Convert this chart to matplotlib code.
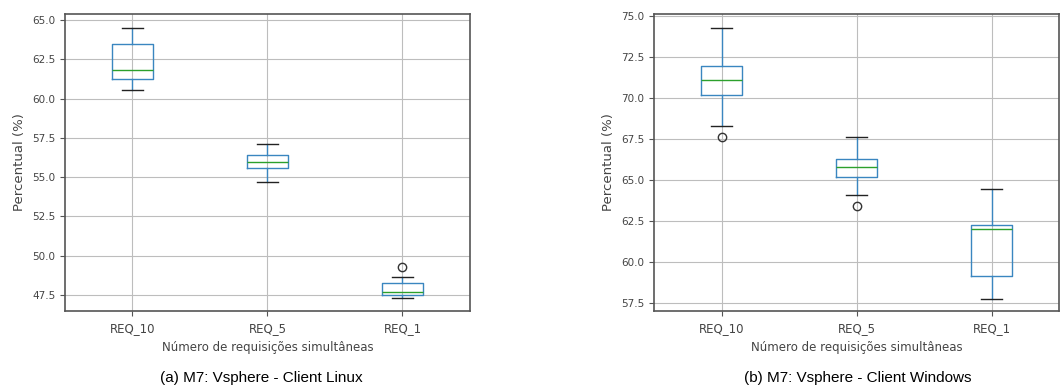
import matplotlib
matplotlib.use('Agg')
import matplotlib.pyplot as plt

# Estatisticas dos boxplots (whislo, q1, mediana, q3, whishi, outliers)
categorias = ['REQ_10', 'REQ_5', 'REQ_1']

linux_whislo = [60.52, 54.67, 47.28]
linux_q1 = [61.22, 55.56, 47.50]
linux_med = [61.84, 55.98, 47.71]
linux_q3 = [63.49, 56.43, 48.24]
linux_whishi = [64.51, 57.09, 48.66]
linux_fliers = [[], [], [49.26]]

win_whislo = [68.28, 64.09, 57.72]
win_q1 = [70.20, 65.19, 59.11]
win_med = [71.07, 65.80, 61.97]
win_q3 = [71.95, 66.29, 62.22]
win_whishi = [74.29, 67.61, 64.44]
win_fliers = [[67.60], [63.42], []]

legendas = ['(a) M7: Vsphere - Client Linux', '(b) M7: Vsphere - Client Windows']


def montar_stats(whislo, q1, med, q3, whishi, fliers):
    stats = []
    for i in range(len(categorias)):
        stats.append({'label': categorias[i], 'whislo': whislo[i], 'q1': q1[i],
                      'med': med[i], 'q3': q3[i], 'whishi': whishi[i],
                      'fliers': fliers[i]})
    return stats


def desenhar(ax, stats, ylim, yticks):
    ax.bxp(stats, widths=0.3,
           boxprops=dict(color='#3a86c0', linewidth=1.0),
           whiskerprops=dict(color='#3a86c0', linewidth=1.0),
           capprops=dict(color='#222222', linewidth=1.0),
           medianprops=dict(color='#2ca02c', linewidth=1.0),
           flierprops=dict(marker='o', markerfacecolor='none',
                           markeredgecolor='#333333', markersize=6))
    ax.set_xlim(0.5, 3.5)
    ax.set_ylim(*ylim)
    ax.set_yticks(yticks)
    ax.grid(True, color='#bdbdbd', linewidth=0.8)
    ax.set_axisbelow(True)
    for s in ax.spines.values():
        s.set_color('#555555')
        s.set_linewidth(1.2)
    ax.tick_params(axis='y', labelsize=7.5, colors='#555555', labelcolor='#444444')
    ax.tick_params(axis='x', labelsize=8.5, colors='#555555', labelcolor='#444444',
                   pad=4.5)
    ax.set_xlabel('Número de requisições simultâneas', fontsize=8.5, color='#444444',
                  labelpad=4)
    ax.set_ylabel('Percentual (%)', fontsize=9.5, color='#444444')


fig = plt.figure(figsize=(10.6, 3.92), dpi=100)
ax1 = fig.add_axes([0.0613, 0.2066, 0.3821, 0.7577])
ax2 = fig.add_axes([0.617, 0.2066, 0.3821, 0.7577])

desenhar(ax1, montar_stats(linux_whislo, linux_q1, linux_med, linux_q3, linux_whishi, linux_fliers),
         (46.48, 65.38), [47.5, 50.0, 52.5, 55.0, 57.5, 60.0, 62.5, 65.0])
desenhar(ax2, montar_stats(win_whislo, win_q1, win_med, win_q3, win_whishi, win_fliers),
         (56.99, 75.12), [57.5, 60.0, 62.5, 65.0, 67.5, 70.0, 72.5, 75.0])

fig.text(261 / 1060, 1 - 378 / 392, legendas[0], ha='center', va='center',
         fontsize=11, family='Liberation Sans')
fig.text(858 / 1060, 1 - 378 / 392, legendas[1], ha='center', va='center',
         fontsize=11, family='Liberation Sans')

fig.savefig('out.png', dpi=100)
